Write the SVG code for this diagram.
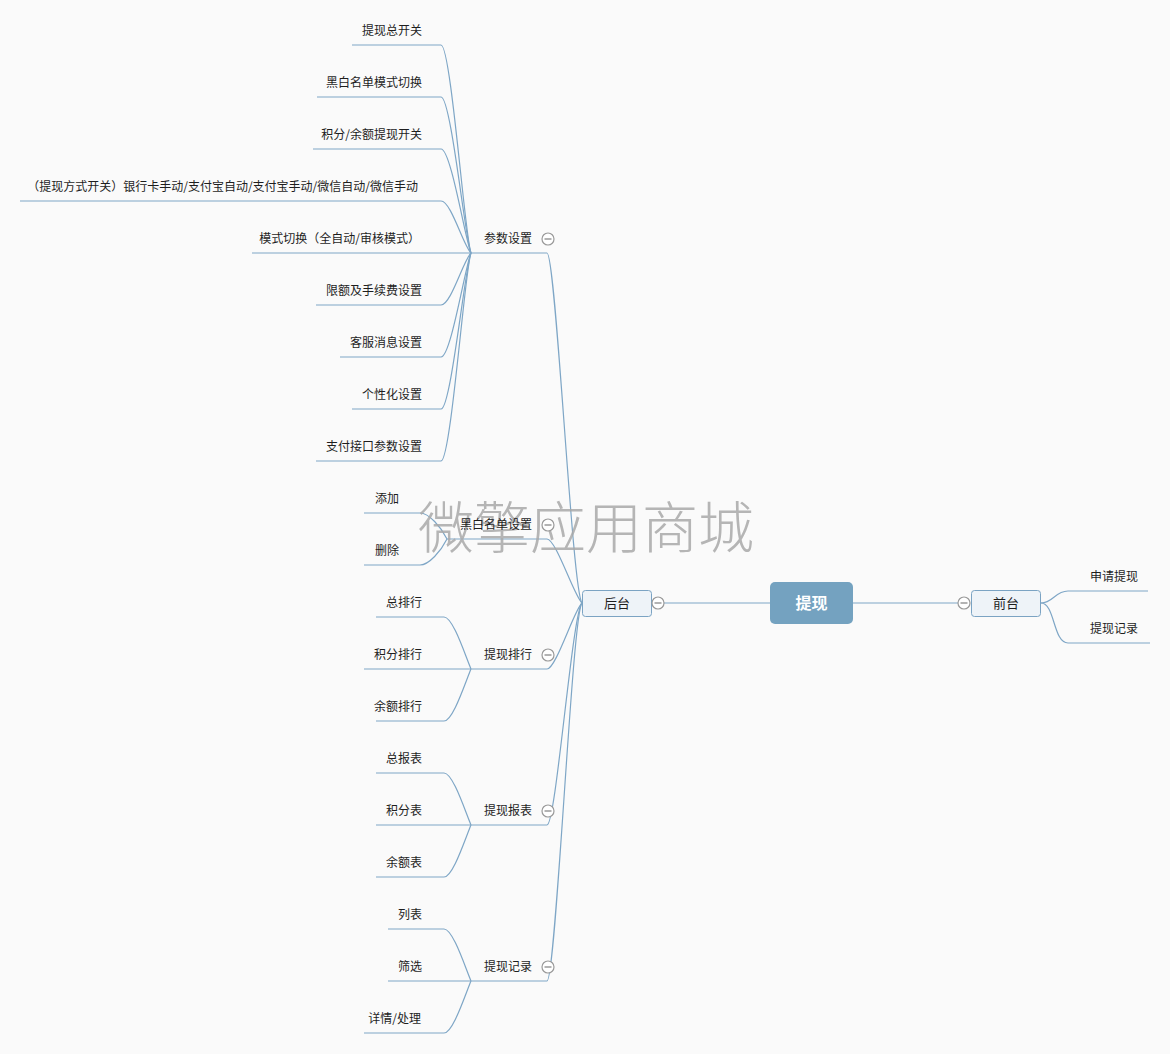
<svg xmlns="http://www.w3.org/2000/svg" width="1170" height="1054" viewBox="0 0 1170 1054">
<style>
text{font-family:"Noto Sans CJK SC","Liberation Sans",sans-serif;fill:#1e1e1e;font-size:12px}
.l{fill:none;stroke:#7ea6c6;stroke-width:1.2}
.e{text-anchor:end}
.m{text-anchor:middle}
.box{fill:#eef3f8;stroke:#7ba3c3;stroke-width:1}
.tg circle{fill:#fff;stroke:#999;stroke-width:1.2}
.tg line{stroke:#808080;stroke-width:1.2}
.wm{font-size:56px;fill:#a9a9a9;font-weight:300;opacity:0.85}
</style>
<rect width="1170" height="1054" fill="#fafafa"/>
<g id="connectors">
<path class="l" d="M770,603 H664"/>
<path class="l" d="M852,603 H958"/>
<path class="l" d="M1041,603 C1053,603 1055,591 1068,591 H1148"/>
<path class="l" d="M1041,603 C1055,603 1053,643 1068,643 H1150"/>
<path class="l" d="M471,253 H547 C556,253 572,592 582,603"/>
<path class="l" d="M447,539 H547 C556,539 574,596 582,603"/>
<path class="l" d="M471,669 H547 C556,669 574,610 582,603"/>
<path class="l" d="M471,825 H547 C556,825 572,614 582,603"/>
<path class="l" d="M471,981 H547 C556,981 572,614 582,603"/>
<path class="l" d="M352,45 H441 C451,45 465,239 471,253"/>
<path class="l" d="M317,97 H441 C451,97 465,239 471,253"/>
<path class="l" d="M313,149 H441 C451,149 465,239 471,253"/>
<path class="l" d="M20,201 H441 C451,201 463,245 471,253"/>
<path class="l" d="M252,253 H471"/>
<path class="l" d="M316,305 H441 C451,305 463,261 471,253"/>
<path class="l" d="M340,357 H441 C451,357 465,267 471,253"/>
<path class="l" d="M352,409 H441 C451,409 465,267 471,253"/>
<path class="l" d="M316,461 H441 C451,461 465,267 471,253"/>
<path class="l" d="M364,513 H420 C429,513 441,527 447,539"/>
<path class="l" d="M364,565 H420 C429,565 441,551 447,539"/>
<path class="l" d="M376,617 H444 C453,617 465,655 471,669"/>
<path class="l" d="M364,669 H471"/>
<path class="l" d="M376,721 H444 C453,721 465,683 471,669"/>
<path class="l" d="M376,773 H444 C453,773 465,811 471,825"/>
<path class="l" d="M376,825 H471"/>
<path class="l" d="M376,877 H444 C453,877 465,839 471,825"/>
<path class="l" d="M388,929 H444 C453,929 465,967 471,981"/>
<path class="l" d="M388,981 H471"/>
<path class="l" d="M364,1033 H444 C453,1033 465,995 471,981"/>
</g>
<text class="wm" x="418" y="548">微擎应用商城</text>
<g id="root">
<rect x="770" y="582" width="83" height="42" rx="5" fill="#74a2c0"/>
<text class="m" x="811.5" y="609" style="fill:#fff;font-size:16px;font-weight:bold">提现</text>
</g>
<g id="houtai">
<rect class="box" x="582.5" y="590.5" width="69" height="26" rx="3"/>
<text class="m" x="617" y="608" style="font-size:13px">后台</text>
<g class="tg"><circle cx="658" cy="603" r="6"/><line x1="654.5" y1="603" x2="661.5" y2="603"/></g>
</g>
<g id="qiantai">
<rect class="box" x="971.5" y="590.5" width="69" height="26" rx="3"/>
<text class="m" x="1006" y="608" style="font-size:13px">前台</text>
<g class="tg"><circle cx="964" cy="603" r="6"/><line x1="960.5" y1="603" x2="967.5" y2="603"/></g>
</g>
<g id="shenqing"><text x="1090" y="581">申请提现</text></g>
<g id="qt-jilu"><text x="1090" y="633">提现记录</text></g>
<g id="canshu">
<text class="e" x="532" y="243">参数设置</text>
<g class="tg"><circle cx="548" cy="239" r="6"/><line x1="544.5" y1="239" x2="551.5" y2="239"/></g>
</g>
<g id="c1"><text class="e" x="422" y="35">提现总开关</text></g>
<g id="c2"><text class="e" x="422" y="87">黑白名单模式切换</text></g>
<g id="c3"><text class="e" x="422" y="139">积分/余额提现开关</text></g>
<g id="c4"><text class="e" x="418" y="191">（提现方式开关）银行卡手动/支付宝自动/支付宝手动/微信自动/微信手动</text></g>
<g id="c5"><text class="e" x="420" y="243">模式切换（全自动/审核模式）</text></g>
<g id="c6"><text class="e" x="422" y="295">限额及手续费设置</text></g>
<g id="c7"><text class="e" x="422" y="347">客服消息设置</text></g>
<g id="c8"><text class="e" x="422" y="399">个性化设置</text></g>
<g id="c9"><text class="e" x="422" y="451">支付接口参数设置</text></g>
<g id="heibai">
<text class="e" x="532" y="529">黑白名单设置</text>
<g class="tg"><circle cx="548" cy="525" r="6"/><line x1="544.5" y1="525" x2="551.5" y2="525"/></g>
</g>
<g id="hb1"><text class="e" x="399" y="503">添加</text></g>
<g id="hb2"><text class="e" x="399" y="555">删除</text></g>
<g id="paihang">
<text class="e" x="532" y="659">提现排行</text>
<g class="tg"><circle cx="548" cy="655" r="6"/><line x1="544.5" y1="655" x2="551.5" y2="655"/></g>
</g>
<g id="ph1"><text class="e" x="422" y="607">总排行</text></g>
<g id="ph2"><text class="e" x="422" y="659">积分排行</text></g>
<g id="ph3"><text class="e" x="422" y="711">余额排行</text></g>
<g id="baobiao">
<text class="e" x="532" y="815">提现报表</text>
<g class="tg"><circle cx="548" cy="811" r="6"/><line x1="544.5" y1="811" x2="551.5" y2="811"/></g>
</g>
<g id="bb1"><text class="e" x="422" y="763">总报表</text></g>
<g id="bb2"><text class="e" x="422" y="815">积分表</text></g>
<g id="bb3"><text class="e" x="422" y="867">余额表</text></g>
<g id="jilu">
<text class="e" x="532" y="971">提现记录</text>
<g class="tg"><circle cx="548" cy="967" r="6"/><line x1="544.5" y1="967" x2="551.5" y2="967"/></g>
</g>
<g id="jl1"><text class="e" x="422" y="919">列表</text></g>
<g id="jl2"><text class="e" x="422" y="971">筛选</text></g>
<g id="jl3"><text class="e" x="421" y="1023">详情/处理</text></g>
</svg>
